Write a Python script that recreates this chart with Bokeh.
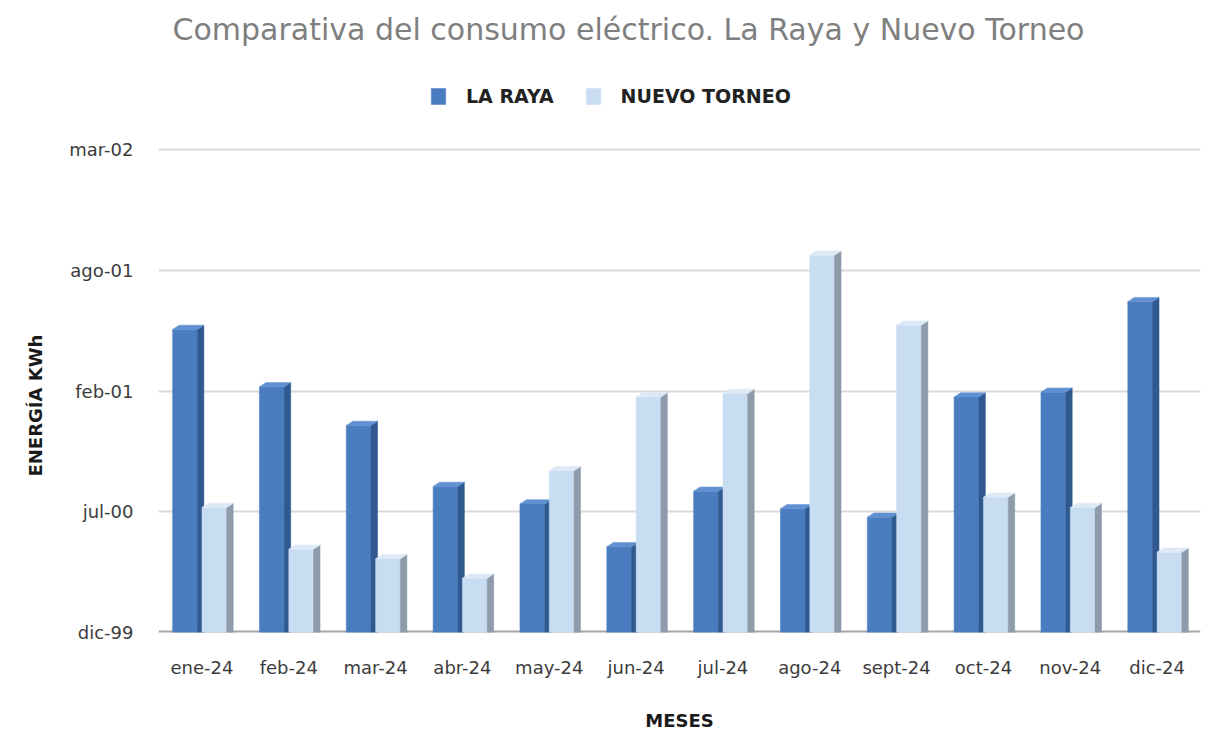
import math
from bokeh.plotting import figure
from bokeh.models import (ColumnDataSource, Range1d, FixedTicker, Span, Label,
                          Legend, LegendItem, Title)
from bokeh.embed import file_html
from bokeh.resources import INLINE

# ---- data ----
months = ["ene-24", "feb-24", "mar-24", "abr-24", "may-24", "jun-24",
          "jul-24", "ago-24", "sept-24", "oct-24", "nov-24", "dic-24"]
la_raya = [502, 407, 343, 242, 213, 142, 234, 205, 191, 390, 398, 548]
nuevo_torneo = [207, 138, 122, 90, 268, 390, 396, 625, 509, 224, 207, 133]
y_ticks = [0, 200, 400, 600, 800]
y_tick_labels = ["dic-99", "jul-00", "feb-01", "ago-01", "mar-02"]

series_names = ["LA RAYA", "NUEVO TORNEO"]
FONT = "DejaVu Sans"

W, H = 1213, 733
BORDER_L, BORDER_R, BORDER_B = 158, 13, 101
FRAME_H = H - BORDER_B
PLOT_TOP_PX = 149          # where the top tick (800) sits, from top of canvas
y_max = y_ticks[-1]
# frame spans the whole top area so that title/legend can live inside it
y_end = y_max * FRAME_H / (FRAME_H - PLOT_TOP_PX)

p = figure(width=W, height=H, output_backend="svg", toolbar_location=None,
           x_range=Range1d(-0.5, len(months) - 0.5), y_range=Range1d(0, y_end),
           min_border_left=BORDER_L, min_border_right=BORDER_R, min_border_top=0,
           min_border_bottom=BORDER_B)
p.outline_line_color = None
p.background_fill_color = "white"
p.border_fill_color = "white"

# geometry (data units)
BAR_W = 0.285
OFFS = [-0.195, 0.143]
DX = 0.075
DY = 7.0
colors = [
    {"front": "#4a7dc0", "side": "#30598f", "top": "#6190d2"},
    {"front": "#c8dcf2", "side": "#8e9bab", "top": "#dde9f6"},
]

# floor
p.add_layout(Span(location=0, dimension="width", line_color="#a6a6a6",
                  line_width=4, level="underlay"))

front_renderers = []
for s, vals in enumerate([la_raya, nuevo_torneo]):
    xs_c = [i + OFFS[s] for i in range(len(months))]
    src = ColumnDataSource(dict(x=xs_c, top=vals, month=months))
    fr = p.vbar(x="x", top="top", bottom=0, width=BAR_W, source=src,
                fill_color=colors[s]["front"], line_color=colors[s]["front"],
                line_width=0.5)
    front_renderers.append(fr)
    side_xs, side_ys, top_xs, top_ys = [], [], [], []
    for xc, v in zip(xs_c, vals):
        x0 = xc - BAR_W / 2
        x1 = xc + BAR_W / 2
        side_xs.append([x1, x1 + DX, x1 + DX, x1])
        side_ys.append([0, 0, v + DY, v])
        top_xs.append([x0, x1, x1 + DX, x0 + DX])
        top_ys.append([v, v, v + DY, v + DY])
    p.patches(xs=side_xs, ys=side_ys, fill_color=colors[s]["side"],
              line_color=colors[s]["side"], line_width=0.5)
    p.patches(xs=top_xs, ys=top_ys, fill_color=colors[s]["top"],
              line_color=colors[s]["top"], line_width=0.5)

# axes
p.xaxis.ticker = FixedTicker(ticks=list(range(len(months))))
p.xaxis.major_label_overrides = {i: m for i, m in enumerate(months)}
p.yaxis.ticker = FixedTicker(ticks=y_ticks)
p.yaxis.major_label_overrides = {t: l for t, l in zip(y_ticks, y_tick_labels)}
for ax in (p.xaxis, p.yaxis):
    ax.axis_line_color = None
    ax.major_tick_line_color = None
    ax.minor_tick_line_color = None
    ax.major_label_text_font = FONT
    ax.major_label_text_font_size = "18px"
    ax.major_label_text_color = "#3c3c3c"
p.xaxis.major_label_standoff = 18
p.yaxis.major_label_standoff = 19
p.xaxis.axis_label = "MESES"
p.xaxis.axis_label_text_font = FONT
p.xaxis.axis_label_text_font_size = "18px"
p.xaxis.axis_label_text_font_style = "bold"
p.xaxis.axis_label_text_color = "#1a1a1a"
p.xaxis.axis_label_standoff = 29

p.xgrid.grid_line_color = None
p.ygrid.grid_line_color = "#d9d9d9"
p.ygrid.grid_line_width = 2

# y axis title on the left side
p.add_layout(Title(text="ENERGÍA KWh", align="left", offset=156, standoff=38,
                   vertical_align="top",
                   text_font=FONT, text_font_size="18px",
                   text_font_style="bold", text_color="#1a1a1a"), "left")

# chart title (inside the extended frame area)
p.add_layout(Label(x=470, y=FRAME_H - 29, x_units="screen", y_units="screen",
                   text="Comparativa del consumo eléctrico. La Raya y Nuevo Torneo",
                   text_align="center", text_baseline="middle",
                   text_font=FONT, text_font_size="30px", text_color="#7f7f7f"))

# legend
legend = Legend(items=[LegendItem(label=series_names[i], renderers=[front_renderers[i]])
                       for i in range(2)],
                orientation="horizontal", location=(271, FRAME_H - 107),
                padding=0, margin=0, spacing=30, label_standoff=19,
                glyph_width=18, glyph_height=20, label_height=20,
                label_text_font=FONT, label_text_font_size="19px",
                label_text_font_style="bold", label_text_color="#222222",
                border_line_color=None, background_fill_alpha=0)
p.add_layout(legend, "center")

open("out.html", "w").write(file_html(p, INLINE))
